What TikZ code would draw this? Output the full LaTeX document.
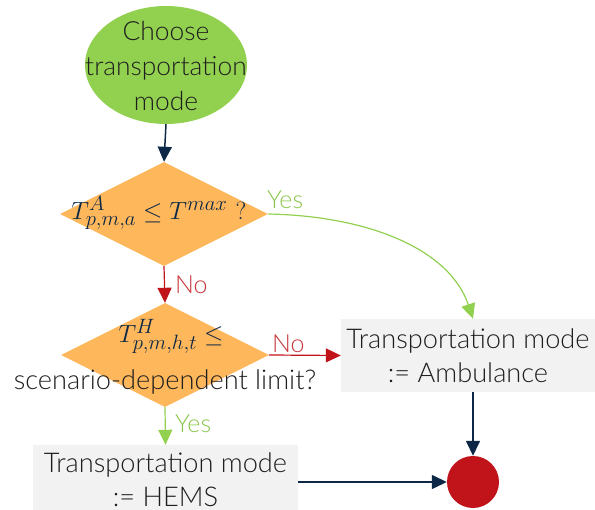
\documentclass[tikz,border=0pt]{standalone}
\usepackage{fontspec}
\setmainfont{Lato}[UprightFont=* Light]
\usetikzlibrary{shapes.geometric,arrows.meta}
\definecolor{startgreen}{HTML}{92D050}
\definecolor{decorange}{HTML}{FFB75C}
\definecolor{navy}{HTML}{0C2846}
\definecolor{stopred}{HTML}{C0141A}
\definecolor{boxgray}{HTML}{F2F2F2}
\definecolor{txt}{HTML}{1E1E1E}
\tikzset{
  startnode/.style={ellipse, fill=startgreen, minimum width=162pt, minimum height=118pt, inner sep=0pt},
  plaintext/.style={align=center, text=txt, inner sep=0pt, font=\fontsize{27.2}{34}\selectfont},
  decision/.style={diamond, fill=decorange, minimum width=208pt, minimum height=104pt, inner sep=0pt},
  mathtext/.style={text=navy, font=\fontsize{30.5}{34}\selectfont, inner sep=0pt},
  actionbox/.style={rectangle, fill=boxgray, inner sep=0pt, align=center, text=txt,
    font=\fontsize{27.2}{34}\selectfont},
  stopnode/.style={circle, fill=stopred, minimum size=52pt, inner sep=0pt},
  flow/.style={draw=navy, line width=1.5pt, -{Triangle[length=15pt,width=14pt]}},
  yesflow/.style={draw=startgreen, line width=1.2pt, -{Triangle[length=15pt,width=14pt]}},
  noflow/.style={draw=stopred, line width=1.2pt, -{Triangle[length=15pt,width=14pt]}},
  yeslabel/.style={text=startgreen!95!black, font=\fontsize{25}{28}\selectfont, inner sep=0pt, anchor=west},
  nolabel/.style={text=stopred!85!white, font=\fontsize{25}{28}\selectfont, inner sep=0pt, anchor=west},
}
\begin{document}
\begin{tikzpicture}[x=1pt,y=-1pt]
\useasboundingbox (0,0) rectangle (595,510);
% start
\node[startnode] (start) at (166,65) {};
\node[plaintext, font=\fontsize{26.4}{35}\selectfont] (starttxt) at (166,66) {Choose\\transportation\\mode};
% first decision: ambulance travel time
\node[decision] (d1) at (164,214) {};
\node[mathtext] (d1txt) at (159,213) {$T^{A}_{p,m,a}\leq T^{max}\ ?$};
% second decision: helicopter travel time
\node[decision] (d2) at (165,355) {};
\node[mathtext] (d2txt) at (171,336) {$T^{H}_{p,m,h,t}\leq$};
\node[plaintext] (d2txt2) at (165,382) {scenario-dependent limit?};
% outcomes
\node[actionbox, minimum width=254pt, minimum height=73pt] (amb) at (468,355.5) {Transportation mode\\:= Ambulance};
\node[actionbox, minimum width=265pt, minimum height=70pt] (hems) at (165.5,480) {Transportation mode\\:= HEMS};
\node[stopnode] (stop) at (473,482) {};
% connectors
\draw[flow] (start.south) -- (d1.north);
\draw[noflow] (d1.south) -- (d2.north);
\node[nolabel] (no1) at (175,285) {No};
\draw[yesflow] (d1.east) .. controls (370,216) and (450,250) .. (amb.north -| 473,0);
\node[yeslabel] (yes1) at (267,200) {Yes};
\draw[noflow] (d2.east) -- (amb.west);
\node[nolabel] (no2) at (272,344) {No};
\draw[yesflow] (d2.south) -- (hems.north);
\node[yeslabel] (yes2) at (175,424) {Yes};
\draw[flow] (amb.south -| stop.north) -- (stop.north);
\draw[flow] (hems.east |- stop.west) -- (stop.west);
\end{tikzpicture}
\end{document}
